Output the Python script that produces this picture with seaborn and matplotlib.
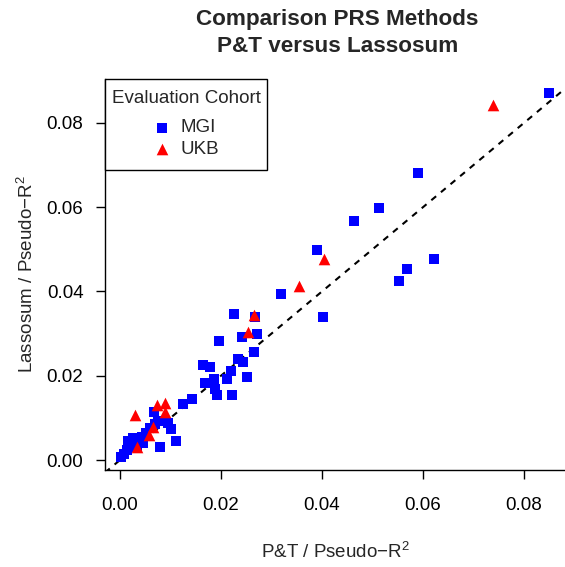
import numpy as np
import pandas as pd
import matplotlib
matplotlib.use("Agg")
import matplotlib.pyplot as plt
from matplotlib.offsetbox import DrawingArea
import seaborn as sns

# ---- data ----
mgi_x = [0.0850, 0.0590, 0.0513, 0.0463, 0.0390, 0.0622, 0.0568, 0.0552, 0.0319, 0.0402,
         0.0226, 0.0267, 0.0271, 0.0242, 0.0196, 0.0265, 0.0234, 0.0244, 0.0164, 0.0178,
         0.0220, 0.0212, 0.0186, 0.0168, 0.0251, 0.0188, 0.0192, 0.0222, 0.0143, 0.0125,
         0.0067, 0.0095, 0.0101, 0.0111, 0.0079,
         0.0002, 0.0008, 0.0014, 0.0020, 0.0016, 0.0026, 0.0034, 0.0044, 0.0051, 0.0046,
         0.0034, 0.0059, 0.0069, 0.0075]
mgi_y = [0.0871, 0.0681, 0.0598, 0.0567, 0.0499, 0.0477, 0.0453, 0.0425, 0.0394, 0.0339,
         0.0347, 0.0339, 0.0299, 0.0292, 0.0282, 0.0256, 0.0240, 0.0233, 0.0226, 0.0221,
         0.0211, 0.0192, 0.0192, 0.0183, 0.0197, 0.0169, 0.0154, 0.0154, 0.0145, 0.0133,
         0.0114, 0.0088, 0.0074, 0.0045, 0.0031,
         0.0007, 0.0014, 0.0024, 0.0031, 0.0045, 0.0052, 0.0052, 0.0055, 0.0064, 0.0040,
         0.0033, 0.0076, 0.0085, 0.0093]
ukb_x = [0.0030, 0.0073, 0.0089, 0.0089, 0.0065, 0.0057, 0.0034,
         0.0265, 0.0253, 0.0354, 0.0404, 0.0739]
ukb_y = [0.0107, 0.0131, 0.0135, 0.0114, 0.0078, 0.0059, 0.0031,
         0.0344, 0.0304, 0.0413, 0.0477, 0.0843]
cohorts = ["MGI", "UKB"]
tick_vals = [0.00, 0.02, 0.04, 0.06, 0.08]
tick_labels = ["0.00", "0.02", "0.04", "0.06", "0.08"]

df = pd.DataFrame({
    "pt": mgi_x + ukb_x,
    "lasso": mgi_y + ukb_y,
    "cohort": [cohorts[0]] * len(mgi_x) + [cohorts[1]] * len(ukb_x),
})

sns.set_style("ticks")
plt.rcParams["font.family"] = ["Liberation Sans", "DejaVu Sans"]
plt.rcParams["mathtext.default"] = "regular"

fig = plt.figure(figsize=(5.65, 5.67), dpi=100)
W, H = 565, 567
l, r, t, b = 105, 565, 79, 470
ax = fig.add_axes([l / W, 1 - b / H, (r - l) / W, (b - t) / H])

colors = {"MGI": "#0000FF", "UKB": "#FF0000"}
markers = {"MGI": "s", "UKB": "^"}
sizes = {"MGI": 45, "UKB": 70}
for c in cohorts:
    sns.scatterplot(data=df[df["cohort"] == c], x="pt", y="lasso", color=colors[c],
                    marker=markers[c], s=sizes[c], linewidth=0, ax=ax, label=c, zorder=3)

xlim = (-0.00297, 0.0881)
ylim = (-0.00237, 0.0904)
lo = min(xlim[0], ylim[0]); hi = max(xlim[1], ylim[1])
ax.plot([lo, hi], [lo, hi], color="black", lw=1.5, ls=(0, (3, 3)), zorder=2)
ax.set_xlim(xlim)
ax.set_ylim(ylim)

ax.set_xticks(tick_vals)
ax.set_xticklabels(tick_labels)
ax.set_yticks(tick_vals)
ax.set_yticklabels(tick_labels)
ax.tick_params(axis="both", direction="out", length=6.5, width=1, color="black",
               labelsize=13.5, labelcolor="black")
ax.tick_params(axis="x", pad=13)
ax.tick_params(axis="y", pad=9)
for s in ["top", "right"]:
    ax.spines[s].set_visible(False)
for s in ["left", "bottom"]:
    ax.spines[s].set_color("black")
    ax.spines[s].set_linewidth(1)

ax.set_xlabel("P&T / Pseudo\u2212R$^{2}$", fontsize=13.5, labelpad=20)
ax.set_ylabel("Lassosum / Pseudo\u2212R$^{2}$", fontsize=13.5, labelpad=7)
ax.set_title("Comparison PRS Methods\nP&T versus Lassosum", fontsize=16.2,
             fontweight="bold", pad=19.5, linespacing=1.38, x=0.505)

leg = ax.legend(title="Evaluation Cohort", loc="upper left", bbox_to_anchor=(0, 1),
                borderaxespad=0, frameon=True, fancybox=False, framealpha=1,
                edgecolor="black", fontsize=13.5, title_fontsize=13.5,
                handlelength=1.0, handletextpad=0.45, labelspacing=0.253,
                borderpad=0.35, alignment="center")
leg.get_frame().set_linewidth(1)
# extra vertical spacing inside the legend (R-style legend box)
spacers = [DrawingArea(0, 2.9), DrawingArea(0, 9.2), DrawingArea(0, 3.6)]
for sp in spacers:
    sp.set_figure(fig)
box = leg._legend_box
box._children = [spacers[0], leg._legend_title_box, spacers[1],
                 leg._legend_handle_box, spacers[2]]
box.sep = 0

fig.savefig("out.png", dpi=100)
